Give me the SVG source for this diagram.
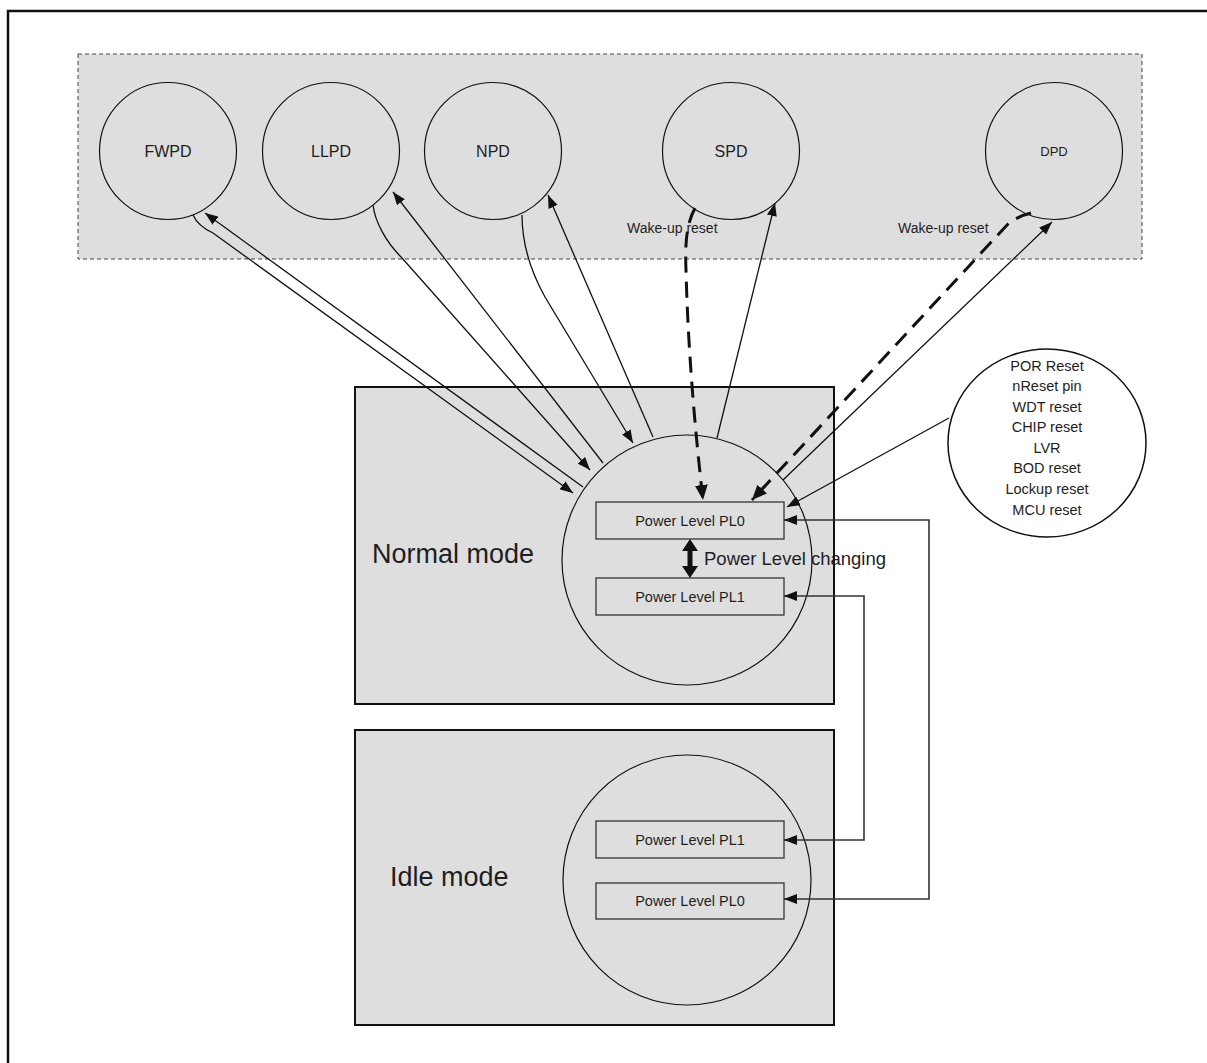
<svg xmlns="http://www.w3.org/2000/svg" width="1207" height="1063" viewBox="0 0 1207 1063">
<style>
  text { font-family: "Liberation Sans", Arial, sans-serif; fill: #1e1e1e; }
  .c { text-anchor: middle; }
  .node { fill: none; stroke: #111; stroke-width: 1.2; }
  .box { fill: #dedede; stroke: #111; stroke-width: 2; }
  .pl { fill: #dedede; stroke: #333; stroke-width: 1.3; }
  .conn { fill: none; stroke: #111; stroke-width: 1.3; }
  .dash { fill: none; stroke: #111; stroke-width: 3; stroke-dasharray: 16 9; }
  .loop { fill: none; stroke: #333; stroke-width: 1.6; }
</style>
<defs>
  <marker id="ah" markerUnits="userSpaceOnUse" markerWidth="13" markerHeight="10" refX="13" refY="5" orient="auto-start-reverse">
    <path d="M0,0 L13,5 L0,10 z" fill="#111"/>
  </marker>
  <marker id="ahb" markerUnits="userSpaceOnUse" markerWidth="15" markerHeight="13" refX="15" refY="6.5" orient="auto">
    <path d="M0,0 L15,6.5 L0,13 z" fill="#111"/>
  </marker>
</defs>
<rect x="0" y="0" width="1207" height="1063" fill="#fff"/>
<rect x="8" y="11" width="1250" height="1100" fill="none" stroke="#111" stroke-width="2.5"/>

<g id="powerdown-group">
  <rect x="78" y="54" width="1064" height="205" fill="#dedede" stroke="#444" stroke-width="1" stroke-dasharray="4 3"/>
</g>
<g id="FWPD"><circle class="node" cx="168" cy="151" r="68.5"/><text class="c" x="168" y="157" font-size="16">FWPD</text></g>
<g id="LLPD"><circle class="node" cx="331" cy="151" r="68.5"/><text class="c" x="331" y="157" font-size="16">LLPD</text></g>
<g id="NPD"><circle class="node" cx="493" cy="151" r="68.5"/><text class="c" x="493" y="157" font-size="16">NPD</text></g>
<g id="SPD"><circle class="node" cx="731" cy="151" r="68.5"/><text class="c" x="731" y="157" font-size="16">SPD</text></g>
<g id="DPD"><circle class="node" cx="1054" cy="151" r="68.5"/><text class="c" x="1054" y="156" font-size="13">DPD</text></g>

<g id="normal-mode">
  <rect class="box" x="355" y="387" width="479" height="317"/>
  <text x="372" y="563" font-size="27">Normal mode</text>
  <circle class="node" cx="687" cy="560" r="125"/>
</g>
<g id="normal-PL0"><rect class="pl" x="596" y="502" width="188" height="37"/><text class="c" x="690" y="525.5" font-size="14.5">Power Level PL0</text></g>
<g id="normal-PL1"><rect class="pl" x="596" y="578" width="188" height="37"/><text class="c" x="690" y="601.5" font-size="14.5">Power Level PL1</text></g>

<g id="idle-mode">
  <rect class="box" x="355" y="730" width="479" height="295"/>
  <text x="390" y="886" font-size="27">Idle mode</text>
  <ellipse class="node" cx="687" cy="880" rx="124" ry="125"/>
</g>
<g id="idle-PL1"><rect class="pl" x="596" y="821" width="188" height="37"/><text class="c" x="690" y="845" font-size="14.5">Power Level PL1</text></g>
<g id="idle-PL0"><rect class="pl" x="596" y="883" width="188" height="36"/><text class="c" x="690" y="906" font-size="14.5">Power Level PL0</text></g>

<g id="reset-sources">
  <ellipse cx="1047" cy="443" rx="99" ry="94" fill="#fff" stroke="#111" stroke-width="1.5"/>
  <g font-size="14.5">
    <text class="c" x="1047" y="370.5">POR Reset</text>
    <text class="c" x="1047" y="391">nReset pin</text>
    <text class="c" x="1047" y="412">WDT reset</text>
    <text class="c" x="1047" y="432">CHIP reset</text>
    <text class="c" x="1047" y="453">LVR</text>
    <text class="c" x="1047" y="473">BOD reset</text>
    <text class="c" x="1047" y="494">Lockup reset</text>
    <text class="c" x="1047" y="515">MCU reset</text>
  </g>
</g>

<g id="connectors">
  <path class="conn" d="M193,215 Q198,226 213,233 L573,493" marker-end="url(#ah)"/>
  <path class="conn" d="M583,487 L205,213" marker-end="url(#ah)"/>
  <path class="conn" d="M373,205 C375,222 386,242 402,258 L590,470" marker-end="url(#ah)"/>
  <path class="conn" d="M603,463 L393,192" marker-end="url(#ah)"/>
  <path class="conn" d="M522,215 C522,242 530,270 545,297 L633,443" marker-end="url(#ah)"/>
  <path class="conn" d="M653,437 L548,195" marker-end="url(#ah)"/>
  <path class="conn" d="M717,438 L775,203" marker-end="url(#ah)"/>
  <path class="conn" d="M783,480 L1052,222" marker-end="url(#ah)"/>
  <path class="conn" d="M949,418 L787,507" marker-end="url(#ah)"/>
  <path class="dash" d="M695,208 C686,225 685,245 686,270 C688,350 695,430 703,500" marker-end="url(#ahb)"/>
  <path class="dash" d="M1031,213 Q1018,216 1008,224 L752,500" marker-end="url(#ahb)"/>
  <path class="loop" d="M784,596 L864,596 L864,840 L784,840" marker-start="url(#ah)" marker-end="url(#ah)"/>
  <path class="loop" d="M784,520 L929,520 L929,899 L784,899" marker-start="url(#ah)" marker-end="url(#ah)"/>
  <polygon points="690,539 698,551 692.5,551 692.5,566 698,566 690,578 682,566 687.5,566 687.5,551 682,551" fill="#111"/>
  <text x="704" y="565" font-size="18.5">Power Level changing</text>
  <text x="627" y="233" font-size="14">Wake-up reset</text>
  <text x="898" y="233" font-size="14">Wake-up reset</text>
</g>
</svg>
